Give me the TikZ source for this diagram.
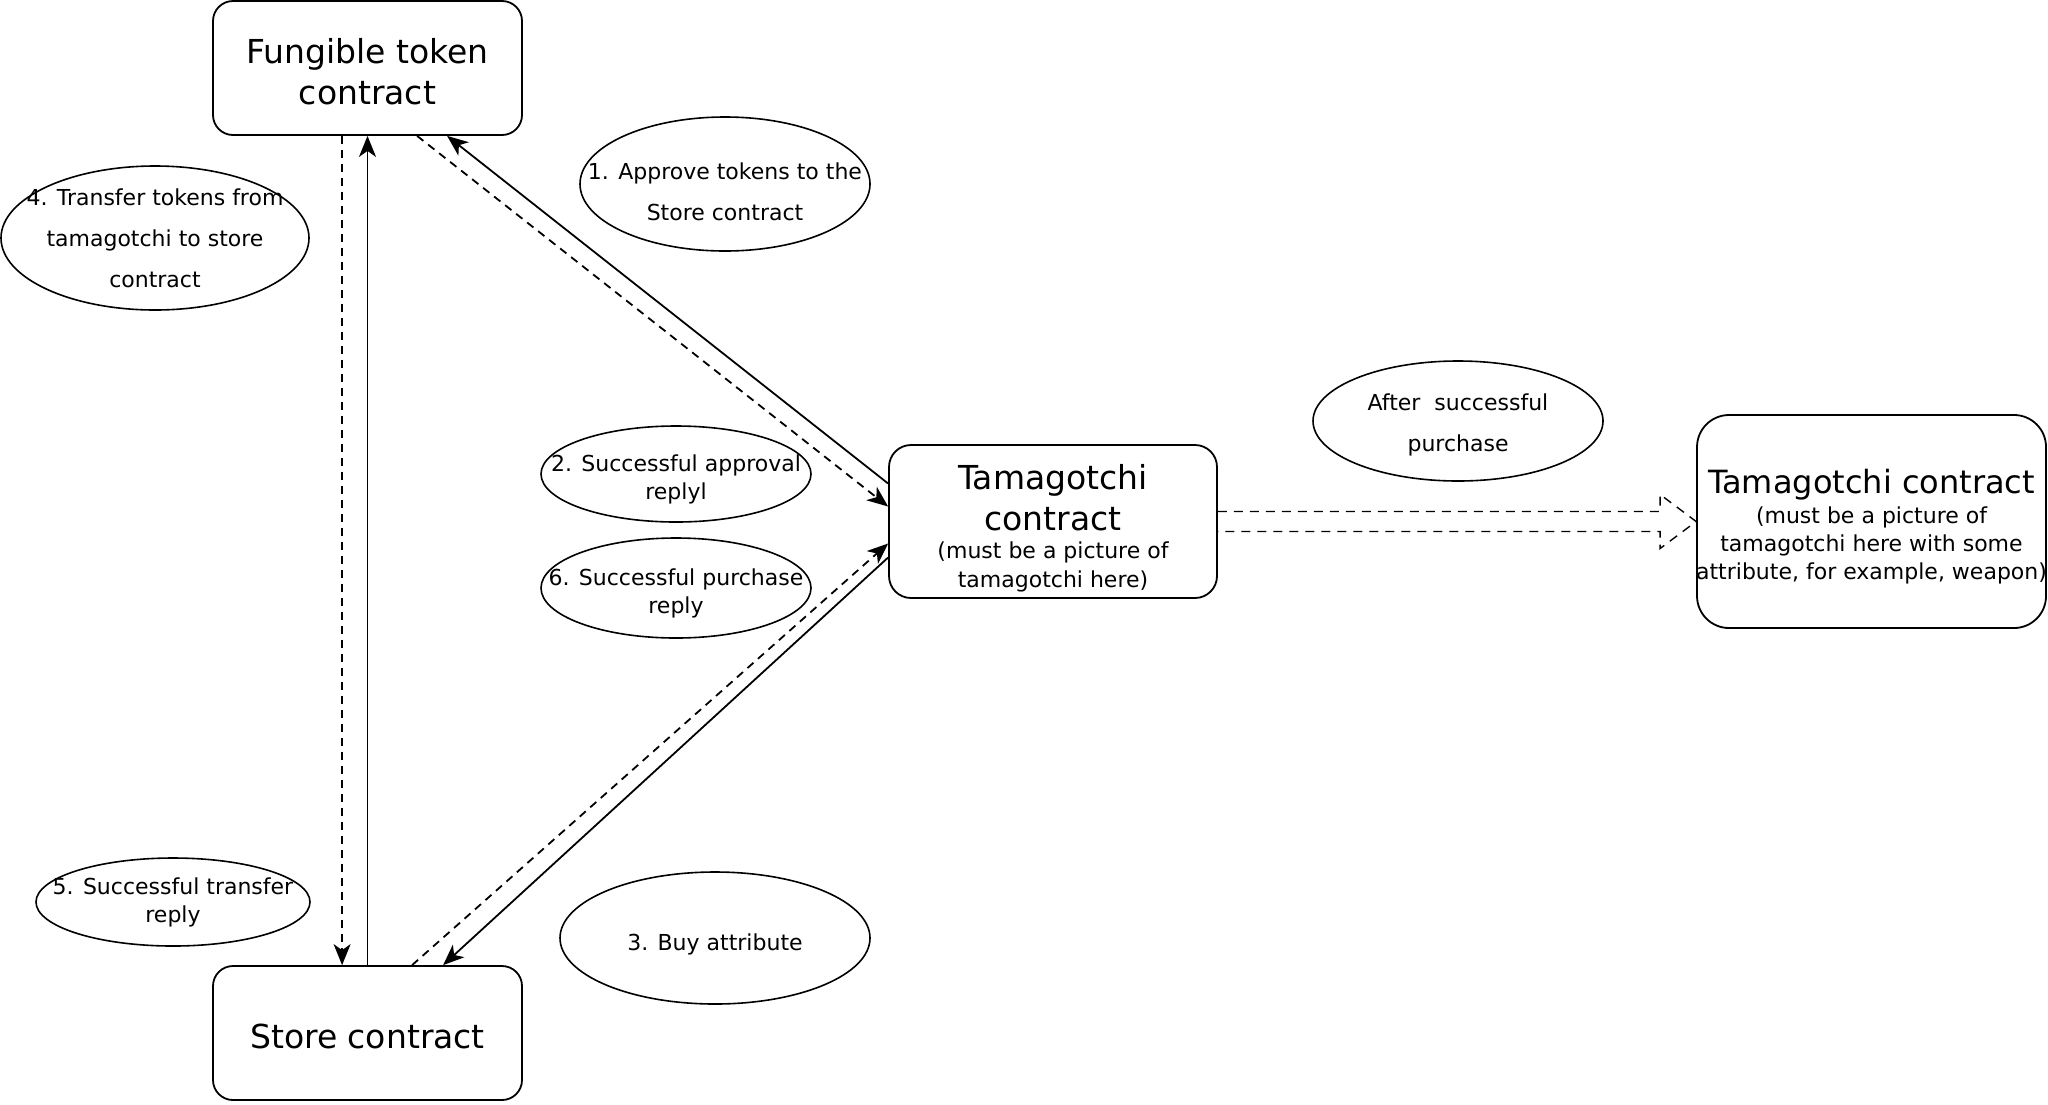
\documentclass[tikz,border=0pt]{standalone}
\usepackage{fontspec}
\setmainfont{DejaVu Sans}
\usetikzlibrary{arrows.meta,shapes.geometric,calc}
\begin{document}
\begin{tikzpicture}[x=0.5pt,y=-0.5pt,
  box/.style={draw,line width=0.9pt,inner sep=0pt},
  boxtext/.style={align=center,inner sep=0pt,font=\fontsize{16.5}{20.5}\selectfont},
  oval/.style={draw,ellipse,line width=0.8pt,inner sep=0pt},
  ovaltext/.style={align=center,inner sep=0pt,font=\fontsize{11}{14}\selectfont},
  wideovaltext/.style={ovaltext,font=\fontsize{11}{20.5}\selectfont},
  conn/.style={line width=0.9pt,-{Stealth[length=10.5pt,width=8.5pt,inset=3pt]}},
  dconn/.style={conn,dash pattern=on 4pt off 3pt},
  flexarrow/.style={line width=0.7pt,dash pattern=on 4.5pt off 3.5pt,line join=miter}]
\useasboundingbox (0,0) rectangle (2048,1104);

% boxes
\node[box,rounded corners=10pt,minimum width=154.5pt,minimum height=67pt,
  label={[boxtext,yshift=-2pt]center:Fungible token\\contract}] (ft) at (367.5,68) {};
\node[box,rounded corners=10pt,minimum width=154.5pt,minimum height=67pt,
  label={[boxtext,yshift=-1.8pt]center:Store contract}] (st) at (367.5,1033) {};
\node[box,rounded corners=11pt,minimum width=164pt,minimum height=76.5pt,
  label={[boxtext,yshift=-3.6pt]center:Tamagotchi\\contract\\[-6.5pt]{\fontsize{11}{14}\selectfont (must be a picture of}\\[-6pt]{\fontsize{11}{14}\selectfont tamagotchi here)}}] (tm) at (1053,521.5) {};
\node[box,rounded corners=16pt,minimum width=174.5pt,minimum height=106.5pt,
  label={[boxtext,font=\fontsize{16}{20}\selectfont,yshift=-2.8pt]center:Tamagotchi contract\\[-5pt]{\fontsize{11}{14}\selectfont (must be a picture of}\\[-6pt]{\fontsize{11}{14}\selectfont tamagotchi here with some}\\[-6pt]{\fontsize{11}{14}\selectfont attribute, for example, weapon)}}] (tr) at (1871.5,521.5) {};

% labels
\node[oval,minimum width=145pt,minimum height=67pt,
  label={[wideovaltext,yshift=-4pt]center:1. Approve tokens to the\\Store contract}] (e1) at (725,184) {};
\node[oval,minimum width=154pt,minimum height=72pt,
  label={[wideovaltext]center:4. Transfer tokens from\\tamagotchi to store\\contract}] (e4) at (155,238) {};
\node[oval,minimum width=135pt,minimum height=48pt,
  label={[ovaltext,yshift=-2.6pt]center:2. Successful approval\\replyl}] (e2) at (676,474) {};
\node[oval,minimum width=135pt,minimum height=50pt,
  label={[ovaltext,yshift=-2.6pt]center:6. Successful purchase\\reply}] (e6) at (676,588) {};
\node[oval,minimum width=137pt,minimum height=44pt,
  label={[ovaltext]center:5. Successful transfer\\reply}] (e5) at (173,902) {};
\node[oval,minimum width=155pt,minimum height=66pt,
  label={[ovaltext,yshift=-3.3pt]center:3. Buy attribute}] (e3) at (715,938) {};
\node[oval,minimum width=145pt,minimum height=60pt,
  label={[wideovaltext,yshift=-2pt]center:After~ successful\\purchase}] (ea) at (1458,421) {};

% vertical connectors
\draw[dconn] ($(ft.south west)+(130,0)$) -- ($(st.north west)+(130,0)$);
\draw[conn] (st.north) -- (ft.south);

% upper diagonal connectors
\draw[conn] ($(tm.west)+(0,-38)$) -- ($(ft.south west)+(235,0)$);
\draw[dconn] ($(ft.south west)+(205,0)$) -- ($(tm.west)+(0,-15)$);

% lower diagonal connectors
\draw[conn] ($(tm.west)+(0,36)$) -- ($(st.north west)+(231,0)$);
\draw[dconn] ($(st.north west)+(200,0)$) -- ($(tm.west)+(0,22)$);

% hollow dashed arrow
\draw[flexarrow] ($(tm.east)+(0,-10)$) -- ($(tr.west)+(-36,-10)$) -- ($(tr.west)+(-36,-27)$)
  -- (tr.west) -- ($(tr.west)+(-36,27)$) -- ($(tr.west)+(-36,10)$) -- ($(tm.east)+(0,10)$);
\end{tikzpicture}
\end{document}
